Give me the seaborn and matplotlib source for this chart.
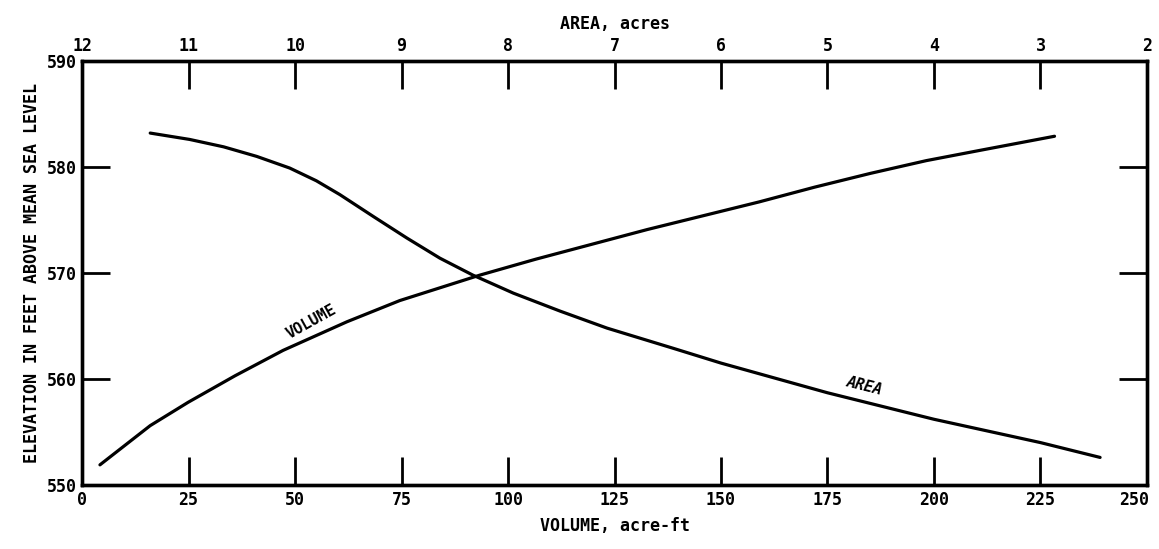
import matplotlib
matplotlib.use("Agg")
import matplotlib.pyplot as plt
import matplotlib.transforms as mtransforms
import seaborn as sns
import pandas as pd

# Elevation-volume curve (volume in acre-ft)
volume_acft = [4.2, 16.0, 24.9, 35.9, 47.2, 62.2, 74.6, 93.4, 106.5, 119.6, 132.7, 145.8,
               158.9, 172.0, 185.1, 198.2, 211.2, 228.3]
volume_elev = [551.9, 555.6, 557.8, 560.3, 562.7, 565.4, 567.4, 569.8, 571.3, 572.7, 574.1, 575.4,
               576.7, 578.1, 579.4, 580.6, 581.6, 582.9]

# Elevation-area curve (area in acres)
area_acres = [11.36, 10.99, 10.67, 10.36, 10.05, 9.80, 9.58, 9.26, 8.95, 8.64, 8.33, 7.95, 7.51,
              7.07, 6.45, 6.00, 5.00, 4.00, 3.00, 2.44]
area_elev = [583.2, 582.6, 581.9, 581.0, 579.9, 578.7, 577.4, 575.3, 573.3, 571.4, 569.8, 568.1,
             566.4, 564.8, 562.9, 561.5, 558.7, 556.2, 554.0, 552.6]

volume_ticks = [0, 25, 50, 75, 100, 125, 150, 175, 200, 225, 250]
area_ticks = [12, 11, 10, 9, 8, 7, 6, 5, 4, 3, 2]
elev_ticks = [550, 560, 570, 580, 590]

sns.set_style("ticks")
plt.rcParams["font.family"] = ["DejaVu Sans Mono", "DejaVu Sans"]
plt.rcParams["font.weight"] = "bold"
plt.rcParams["text.color"] = "black"
plt.rcParams["axes.labelcolor"] = "black"
plt.rcParams["axes.labelweight"] = "bold"

vol_df = pd.DataFrame({"volume": volume_acft, "elevation": volume_elev})
area_df = pd.DataFrame({"area": area_acres, "elevation": area_elev})

fig = plt.figure(figsize=(11.59, 5.49), dpi=100)
ax = fig.add_axes([0.0708, 0.1166, 0.9188, 0.7723])

sns.lineplot(data=vol_df, x="volume", y="elevation", ax=ax, color="black",
             linewidth=2.3, sort=False, estimator=None)
ax.set_xlim(0, 250)
ax.set_ylim(550, 590)
ax.set_xticks(volume_ticks)
ax.set_yticks(elev_ticks)
ax.set_xlabel("VOLUME, acre-ft", fontsize=12, labelpad=6, fontweight="bold")
ax.set_ylabel("ELEVATION IN FEET ABOVE MEAN SEA LEVEL", fontsize=12, labelpad=4,
              fontweight="bold")
ax.tick_params(axis="both", direction="in", length=20, width=2, labelsize=12,
               colors="black", pad=4)
ax.tick_params(axis="y", right=True, labelright=False)
for s in ax.spines.values():
    s.set_linewidth(2.4)
    s.set_color("black")
    s.set_visible(True)

# keep the last volume label inside the figure edge
last = ax.get_xticklabels()[-1]
last.set_transform(last.get_transform() +
                   mtransforms.ScaledTranslation(-9 / 72, 0, fig.dpi_scale_trans))

ax2 = ax.twiny()
sns.lineplot(data=area_df, x="area", y="elevation", ax=ax2, color="black",
             linewidth=2.3, sort=False, estimator=None)
ax2.set_xlim(12, 2)
ax2.set_ylim(550, 590)
ax2.set_xticks(area_ticks)
ax2.set_xlabel("AREA, acres", fontsize=12, labelpad=6, fontweight="bold")
ax2.set_ylabel("")
ax2.tick_params(axis="x", direction="in", length=20, width=2, labelsize=12,
                colors="black", pad=4)
for s in ax2.spines.values():
    s.set_linewidth(2.4)
    s.set_color("black")

ax.text(53.8, 565.4, "VOLUME", fontsize=11, rotation=29, ha="center", va="center")
ax.text(183.8, 559.3, "AREA", fontsize=11, rotation=-14, ha="center", va="center",
        style="italic")

fig.savefig("out.png", dpi=100, facecolor="white")
